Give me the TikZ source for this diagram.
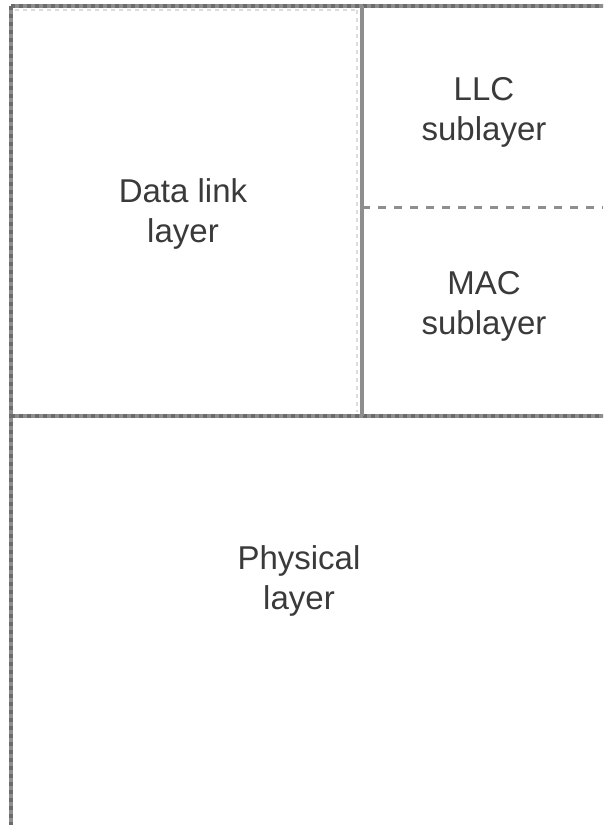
\documentclass[tikz,border=0pt]{standalone}
\usepackage{fontspec}
\setmainfont{Liberation Sans}
\definecolor{edge}{HTML}{8E8E8E}
\definecolor{edgedark}{HTML}{6C6C6C}
\definecolor{faint}{HTML}{DCDCDC}
\definecolor{ink}{HTML}{3A3A3A}
\tikzset{
  rule/.style={edge, line width=3.6pt},
  ruledash/.style={edgedark, line width=3.6pt, dash pattern=on 4pt off 4pt},
  subrule/.style={edge, line width=3pt, dash pattern=on 8pt off 8pt},
  ghost/.style={faint, line width=2.5pt, dash pattern=on 4pt off 4pt},
  lbl/.style={font=\fontsize{33}{40}\selectfont, text=ink, align=center, inner sep=0pt},
}
\begin{document}
\begin{tikzpicture}[x=1pt, y=1pt]
  \useasboundingbox (0,0) rectangle (603,-825);
  \fill[white] (0,0) rectangle (603,-825);

  % corner points of the layer grid
  \coordinate (tl) at (11,-6);
  \coordinate (tr) at (603,-6);
  \coordinate (bl) at (11,-825);
  \coordinate (ml) at (11,-416);
  \coordinate (mr) at (603,-416);
  \coordinate (st) at (362,-6);
  \coordinate (sb) at (362,-416);
  \coordinate (dl) at (362,-207);
  \coordinate (dr) at (603,-207);

  % faint inner edges of the data link box
  \draw[ghost] (15,-10) -- (358,-10);
  \draw[ghost] (357,-10) -- (357,-412);

  % outer rules: left edge, top edge, physical layer boundary
  \foreach \a/\b in {tl/bl, tl/tr, ml/mr} {
    \draw[rule] (\a) -- (\b);
    \draw[ruledash] (\a) -- (\b);
  }

  % split between data link layer and its sublayers
  \draw[rule] (st) -- (sb);

  % LLC / MAC divider
  \draw[subrule] (dl) -- (dr);

  \node[lbl] (datalink) at (183,-214) {Data link\\layer};
  \node[lbl] (llc) at (484,-112) {LLC\\sublayer};
  \node[lbl] (mac) at (484,-306) {MAC\\sublayer};
  \node[lbl] (phys) at (299,-581) {Physical\\layer};
\end{tikzpicture}
\end{document}
